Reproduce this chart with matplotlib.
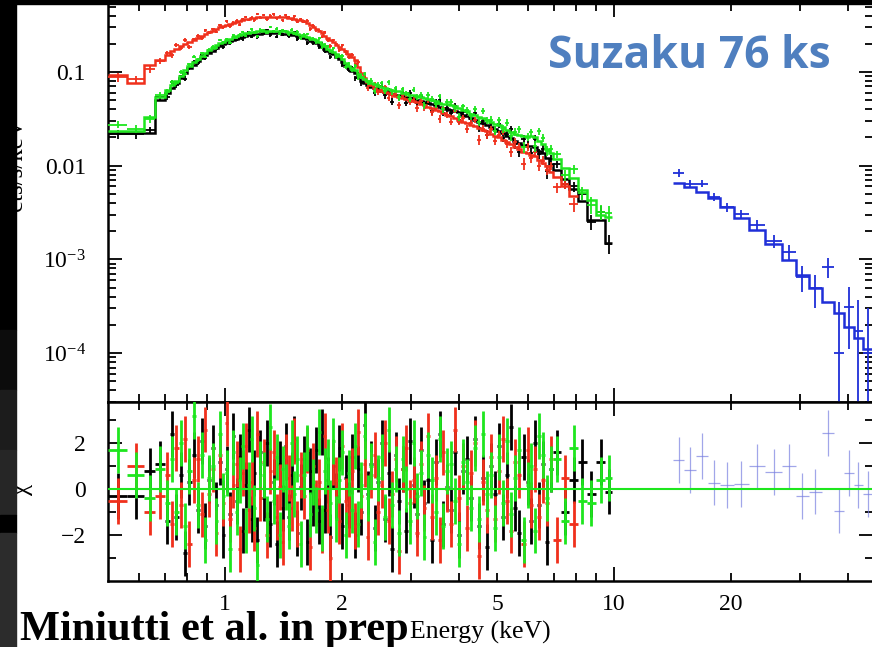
import numpy as np
import matplotlib
matplotlib.use("Agg")
import matplotlib.pyplot as plt
from matplotlib.patches import Rectangle
from matplotlib.ticker import LogLocator, NullFormatter

plt.rcParams['font.family'] = ['Liberation Serif', 'DejaVu Serif']

# XIS bin edges (keV), shared by the three XIS spectra
xis_edges = [0.50, 0.56, 0.62, 0.66,
             0.70, 0.72, 0.74, 0.76, 0.78, 0.80, 0.82, 0.84, 0.86, 0.88,
             0.90, 0.92, 0.94, 0.96, 0.98, 1.00, 1.02, 1.04, 1.06, 1.08,
             1.10, 1.12, 1.14, 1.16, 1.18, 1.20, 1.22,
             1.245, 1.27, 1.295, 1.32, 1.345, 1.37, 1.395, 1.42, 1.445, 1.47, 1.495, 1.52,
             1.55, 1.58, 1.61, 1.64, 1.67, 1.70, 1.73, 1.76, 1.79, 1.82, 1.85, 1.88,
             1.915, 1.95, 1.985, 2.02, 2.06, 2.10, 2.14, 2.18, 2.22, 2.26, 2.305,
             2.35, 2.40, 2.45, 2.50, 2.55, 2.605, 2.66, 2.715, 2.77, 2.83, 2.89,
             2.955, 3.02, 3.085, 3.15, 3.22, 3.29, 3.365, 3.44, 3.52, 3.60, 3.685, 3.77,
             3.86, 3.95, 4.045, 4.14, 4.24, 4.34, 4.445, 4.55, 4.66, 4.77, 4.885, 5.00,
             5.125, 5.25, 5.38, 5.51, 5.645, 5.78, 5.92, 6.06, 6.205, 6.35, 6.505, 6.66,
             6.82, 6.98,
             7.32, 7.68, 8.06, 8.50, 9.0, 9.5, 9.9]

# folded model (cts/s/keV) per bin
black_model = [0.0223, 0.0223, 0.0223, 0.050,
               0.060, 0.068, 0.077, 0.087, 0.098, 0.109, 0.120, 0.130, 0.140, 0.150,
               0.159, 0.168, 0.180, 0.189, 0.197, 0.204, 0.212, 0.219, 0.225, 0.231,
               0.237, 0.242, 0.246, 0.250, 0.253, 0.255,
               0.257, 0.259, 0.260, 0.260, 0.260, 0.260, 0.259, 0.257, 0.255, 0.252, 0.249, 0.246,
               0.241, 0.235, 0.229, 0.223, 0.216, 0.209, 0.202, 0.194, 0.184, 0.175, 0.166, 0.160,
               0.154, 0.146, 0.138, 0.128, 0.117, 0.109, 0.103, 0.097, 0.089, 0.081, 0.077,
               0.073, 0.069, 0.067, 0.065, 0.063, 0.0615, 0.060, 0.0585, 0.057, 0.0565, 0.055,
               0.054, 0.0525, 0.0515, 0.0505, 0.049, 0.0475, 0.0465, 0.0455, 0.044, 0.0425,
               0.0415, 0.0405, 0.0395, 0.0385, 0.037, 0.035, 0.034, 0.0325, 0.031, 0.0295,
               0.0285, 0.0275, 0.026, 0.0245,
               0.0235, 0.0225, 0.0208, 0.0195, 0.0185, 0.0175, 0.0168, 0.0162, 0.0162, 0.0158,
               0.0145, 0.0135, 0.0120, 0.0105,
               0.0090, 0.0072, 0.0057, 0.0042, 0.0026, 0.0026, 0.0015]
red_model = [0.093, 0.076, 0.118, 0.135,
             0.152, 0.166, 0.177, 0.188, 0.198, 0.209, 0.219, 0.230, 0.242, 0.254,
             0.264, 0.277, 0.290, 0.300, 0.307, 0.316, 0.323, 0.332, 0.340, 0.349,
             0.356, 0.364, 0.370, 0.377, 0.380, 0.384,
             0.386, 0.389, 0.390, 0.390, 0.390, 0.390, 0.389, 0.387, 0.384, 0.379, 0.374, 0.367,
             0.362, 0.356, 0.347, 0.333, 0.318, 0.302, 0.287, 0.273, 0.258, 0.242, 0.230, 0.220,
             0.207, 0.193, 0.184, 0.176, 0.166, 0.154, 0.145, 0.135, 0.112, 0.098, 0.086,
             0.078, 0.072, 0.068, 0.065, 0.063, 0.061, 0.059, 0.0575, 0.056, 0.0545, 0.053,
             0.0515, 0.0505, 0.049, 0.0475, 0.0455, 0.044, 0.0425, 0.041, 0.0395, 0.038,
             0.0365, 0.035, 0.0335, 0.032, 0.0305, 0.0295, 0.0285, 0.027, 0.0262, 0.0252,
             0.0242, 0.0232, 0.0218, 0.0208,
             0.0200, 0.0190, 0.0180, 0.0170, 0.0160, 0.0150, 0.0140, 0.0135, 0.0130, 0.0126,
             0.0116, 0.0108, 0.0098, 0.0086,
             0.0075, 0.0060, 0.0048]
green_model = [0.0235, 0.0235, 0.033, 0.054,
               0.064, 0.072, 0.081, 0.091, 0.104, 0.116, 0.128, 0.138, 0.149, 0.160,
               0.170, 0.180, 0.192, 0.202, 0.210, 0.218, 0.226, 0.234, 0.240, 0.246,
               0.252, 0.258, 0.262, 0.266, 0.269, 0.271,
               0.273, 0.275, 0.276, 0.276, 0.276, 0.276, 0.275, 0.273, 0.271, 0.268, 0.265, 0.261,
               0.257, 0.251, 0.245, 0.239, 0.232, 0.225, 0.217, 0.208, 0.198, 0.188, 0.178, 0.170,
               0.163, 0.155, 0.147, 0.137, 0.126, 0.117, 0.111, 0.105, 0.096, 0.088, 0.084,
               0.080, 0.076, 0.074, 0.071, 0.069, 0.068, 0.066, 0.065, 0.063, 0.062, 0.060,
               0.059, 0.057, 0.0565, 0.0555, 0.054, 0.0525, 0.051, 0.050, 0.049, 0.047,
               0.046, 0.045, 0.044, 0.043, 0.041, 0.039, 0.038, 0.036, 0.035, 0.033,
               0.032, 0.031, 0.0295, 0.028,
               0.027, 0.026, 0.024, 0.023, 0.022, 0.021, 0.0205, 0.020, 0.0205, 0.020,
               0.0185, 0.0170, 0.0152, 0.0135,
               0.0118, 0.0094, 0.0074, 0.0055, 0.0043, 0.0030, 0.0028]

# fractional 1-sigma error per bin
rel_err = [0.10, 0.10, 0.09, 0.07,
           0.065, 0.06, 0.055, 0.05, 0.048, 0.046, 0.044, 0.042, 0.04, 0.04,
           0.039, 0.038, 0.037, 0.036, 0.036, 0.035, 0.035, 0.035, 0.034, 0.034,
           0.034, 0.034, 0.034, 0.034, 0.034, 0.034,
           0.034, 0.034, 0.034, 0.034, 0.034, 0.034, 0.034, 0.034, 0.034, 0.034, 0.034, 0.034,
           0.035, 0.035, 0.036, 0.036, 0.037, 0.038, 0.039, 0.04, 0.041, 0.042, 0.043, 0.044,
           0.045, 0.046, 0.047, 0.048, 0.05, 0.052, 0.054, 0.056, 0.058, 0.06, 0.061,
           0.062, 0.063, 0.064, 0.065, 0.066, 0.067, 0.068, 0.068, 0.069, 0.07, 0.07,
           0.071, 0.071, 0.072, 0.072, 0.073, 0.073, 0.074, 0.075, 0.075, 0.076,
           0.077, 0.078, 0.079, 0.08, 0.081, 0.082, 0.083, 0.084, 0.085, 0.086,
           0.087, 0.088, 0.089, 0.09,
           0.092, 0.094, 0.096, 0.098, 0.10, 0.102, 0.104, 0.106, 0.108, 0.11,
           0.113, 0.116, 0.12, 0.125,
           0.10, 0.11, 0.13, 0.15, 0.18, 0.20, 0.22]

# residuals (data - model) / sigma
black_chi = [-0.3, -0.3, 0.8, 1.1, -1.4, 2.4, -1.2, 0.6, -2.8, 0.3,
             1.5, -0.9, 2.1, -1.6, 0.4, 1.8, -0.7, 1.2, -2.0, 0.9,
             -1.1, 2.3, -0.5, 1.4, -1.8, 0.2, 2.6, -1.3, 0.7, -2.2,
             1.6, -0.4, 2.0, -1.5, 0.3, -2.4, 1.1, -0.8, 1.9, -1.2,
             0.6, 2.2, -1.9, 0.1, 1.3, -2.3, 0.8, -0.6, 1.7, -1.4,
             2.5, -0.9, 0.4, -2.1, 1.0, -0.3, 1.8, -1.6, 0.5, -0.7,
             1.4, -2.0, 0.9, -1.0, 2.8, -0.2, 1.1, -1.7, 0.3, 2.0,
             -1.3, 0.7, -2.6, 1.5, -0.5, 0.9, -1.8, 2.1, 0.2, -1.1,
             1.7, -0.6, 0.4, -2.2, 1.2, 2.4, -1.5, 0.1, -0.9, 1.6,
             -2.0, 0.8, 1.3, -0.4, 2.2, -1.6, 0.5, -2.5, 1.0, -0.2,
             1.9, -1.2, 0.6, 2.7, -0.8, -1.9, 1.4, 0.3, -1.4, 2.0,
             -0.7, 1.1, -2.3, 0.9, 1.6, -1.0, 0.4, 1.2, -0.2, 1.2,
             -0.1]
red_chi = [-0.5, 1.0, -1.0, -0.3, 0.6, -1.5, 1.8, -0.7, 2.2, -2.4,
           0.4, 1.3, -1.1, 2.6, -0.2, 0.9, -1.9, 1.5, -0.6, 2.9,
           -1.3, 0.2, 1.1, -2.6, 0.7, 1.9, -0.9, 0.3, -1.7, 2.4,
           -0.4, 1.2, -2.0, 0.8, 1.6, -1.2, 0.1, -2.3, 1.4, 0.5,
           -0.8, 2.1, -1.5, 0.6, -0.3, 1.7, -2.5, 1.0, -0.6, 0.3,
           -1.8, 2.3, -0.9, -3.0, 1.2, 0.4, -1.4, 1.9, -0.5, -1.1,
           0.8, -1.6, 2.5, -0.3, 1.1, -2.1, 0.6, 1.5, -1.0, 0.2,
           2.0, -1.4, -0.2, 1.3, -2.7, 0.9, 1.8, -0.6, 0.4, -1.9,
           1.1, -0.8, 2.3, -1.2, 0.5, -2.2, 1.6, 0.0, -1.5, 2.6,
           -0.4, 1.0, -1.7, 0.7, 2.0, -2.9, 0.3, -0.9, 1.4, -1.3,
           0.8, 2.2, -0.5, -1.8, 1.2, 0.6, -2.4, 1.7, -0.7, 0.9,
           -1.2, 0.4, -0.6, 1.3, -2.2, 0.5, -1.5]
green_chi = [1.7, 0.6, -0.4, 0.9, -0.6, 1.3, -1.0, 2.0, -1.6, 0.8,
             3.2, -0.7, 1.5, -2.2, 0.5, 1.0, -1.4, 2.4, -0.3, 0.7,
             -2.6, 1.6, -1.0, 0.4, 1.9, -1.8, 0.2, 2.2, -0.8, -3.3,
             1.1, 0.6, -1.3, 2.7, -0.5, 1.4, -2.0, 0.9, 0.1, -1.6,
             2.0, -0.2, 1.3, -2.4, 0.6, 1.8, -1.1, 0.3, -0.9, 2.5,
             -1.7, 0.8, 1.2, -0.6, 2.1, -1.3, 0.4, 1.6, -2.0, 0.7,
             -0.9, 1.9, -1.5, 0.2, 2.3, -0.4, 1.0, -2.3, 0.5, 1.4,
             -1.2, 2.6, -0.7, 0.9, -1.9, 1.3, 0.0, -1.4, 2.0, -0.3,
             0.7, -2.1, 1.5, 0.4, -1.0, 2.2, -1.6, 0.8, 1.1, -0.5,
             -2.4, 1.2, 0.3, -0.8, 1.8, -1.3, 2.4, -0.2, 0.6, -1.7,
             1.4, -0.6, 2.1, -1.1, 0.5, 1.7, -2.2, 0.2, 1.0, -1.8,
             2.3, 1.5, -0.4, 0.9, 1.3, -1.4, 1.8, -0.5, -0.6, 0.4,
             0.5]

# HXD-PIN spectrum
pin_edges = [14.2, 15.1, 16.2, 17.4, 18.7, 20.3, 22.2, 24.5, 27.0, 29.3,
             31.7, 34.2, 36.7, 39.0, 41.3, 43.7, 46.5]
pin_model = [6.6e-3, 5.9e-3, 5.2e-3, 4.5e-3, 3.6e-3, 2.75e-3, 2.05e-3, 1.45e-3,
             9.8e-4, 6.8e-4, 4.9e-4, 3.5e-4, 2.7e-4, 1.9e-4, 1.45e-4, 1.1e-4]
pin_data = [8.35e-3, 6.4e-3, 6.4e-3, 4.6e-3, 3.6e-3, 3.05e-3, 2.33e-3, 1.58e-3,
            1.2e-3, 6.5e-4, 4.95e-4, 8.3e-4, 1.0e-4, 3.1e-4, 1.7e-4, 1.0e-4]
pin_sigma = [8.0e-4, 6.0e-4, 5.5e-4, 4.5e-4, 4.0e-4, 3.5e-4, 3.0e-4, 2.5e-4,
             2.2e-4, 2.0e-4, 1.9e-4, 2.0e-4, 2.5e-4, 2.0e-4, 2.0e-4, 2.0e-4]
pin_chi = [1.28, 0.84, 1.45, 0.29, 0.17, 0.23, 0.99, 0.75, 0.99, -0.29,
           -0.1, 2.43, -0.93, 0.70, 0.17, -0.2]

c_black, c_red, c_green, c_blue = '#000000', '#f0301c', '#1ee61e', '#1f2fd8'

W, H = 872, 647
fig = plt.figure(figsize=(W / 100, H / 100), dpi=100)
fig.patch.set_facecolor('white')


def fx(px):
    return px / W


def fy(py):
    return 1 - py / H


L, R = 108, 873
ax1 = fig.add_axes([fx(L), fy(402), (R - L) / W, (402 - 3) / H])
ax2 = fig.add_axes([fx(L), fy(581), (R - L) / W, (581 - 402) / H], sharex=ax1)


def draw_xis(model, chi, color, z):
    m = np.array(model)
    n = len(m)
    e = np.array(xis_edges[:n + 1])
    lo, hi = e[:-1], e[1:]
    cen = np.sqrt(lo * hi)
    c = np.array(chi)
    sig = np.array(rel_err[:n]) * m
    data = m + c * sig
    ax1.errorbar(cen, data, xerr=[cen - lo, hi - cen], yerr=sig, fmt='none',
                 ecolor=color, elinewidth=1.3, zorder=z)
    ax1.stairs(m, e, baseline=None, color=color, lw=1.8, zorder=z + 0.5)
    ax2.errorbar(cen, c, xerr=[cen - lo, hi - cen], yerr=1.0, fmt='none',
                 ecolor=color, elinewidth=2.0, zorder=z)


draw_xis(black_model, black_chi, c_black, 2)
draw_xis(red_model, red_chi, c_red, 3)
draw_xis(green_model, green_chi, c_green, 4)

pe = np.array(pin_edges)
plo, phi = pe[:-1], pe[1:]
pcen = np.sqrt(plo * phi)
ax1.errorbar(pcen, pin_data, xerr=[pcen - plo, phi - pcen], yerr=pin_sigma,
             fmt='none', ecolor=c_blue, elinewidth=1.3, zorder=5)
ax1.stairs(pin_model, pe, baseline=None, color=c_blue, lw=1.8, zorder=5)
ax2.errorbar(pcen, pin_chi, xerr=[pcen - plo, phi - pcen], yerr=1.0,
             fmt='none', ecolor='#7a80e0', elinewidth=0.9, alpha=0.7, zorder=5)
ax2.axhline(0, color=c_green, lw=1.5, zorder=6)

ax1.set_xscale('log')
ax1.set_yscale('log')
ax1.set_xlim(0.5, 46.3)
ax1.set_ylim(3.0e-5, 0.545)
ax2.set_ylim(-4.0, 3.8)

ax1.set_yticks([1e-4, 1e-3, 1e-2, 1e-1],
               [r'$\mathregular{10^{-4}}$', r'$\mathregular{10^{-3}}$', '0.01', '0.1'])
ax1.yaxis.set_minor_locator(LogLocator(base=10, subs=np.arange(2, 10)))
ax1.yaxis.set_minor_formatter(NullFormatter())

ax2.set_xticks([1, 10], ['1', '10'])
minor_x = [0.6, 0.7, 0.8, 0.9, 2, 3, 4, 5, 6, 7, 8, 9, 20, 30, 40]
ax2.set_xticks(minor_x, ['' if v not in (2, 5, 20) else str(v) for v in minor_x], minor=True)
ax2.set_yticks([-2, 0, 2], ['\u22122', '0', '2'])
ax2.set_yticks([-3, -1, 1, 3], minor=True)

for ax in (ax1, ax2):
    ax.tick_params(which='both', direction='in', top=True, right=True,
                   width=1.3, labelsize=17)
    ax.tick_params(which='major', length=10)
    ax.tick_params(which='minor', length=6)
    ax.tick_params(axis='y', which='both', pad=16)
    ax.tick_params(axis='x', which='both', pad=9)
    for s in ax.spines.values():
        s.set_linewidth(1.8)
ax1.tick_params(which='both', labelbottom=False)

# annotations
fig.text(fx(548), fy(68), 'Suzaku 76 ks', fontfamily='Open Sans', fontweight='bold',
         fontsize=32, color='#4f7fbf', va='baseline')
fig.text(fx(20), fy(640), 'Miniutti et al. in prep', fontweight='bold',
         fontsize=30.5, va='baseline', zorder=12)
fig.text(fx(410), fy(639), 'Energy (keV)', fontsize=18.5, va='baseline')
fig.text(fx(16), fy(165), 'cts/s/keV', rotation=90, ha='center', va='center', fontsize=18)
fig.text(fx(22), fy(489), '\u03c7', rotation=90, ha='center', va='center', fontsize=18)

# screenshot frame: dark strips along the top and left edges
strips = [((0, 0), (W, 4), '#000000'),
          ((0, 0), (16, 330), '#000000'),
          ((0, 330), (16, 60), '#0c0c0c'),
          ((0, 390), (16, 60), '#1c1c1c'),
          ((0, 450), (16, 65), '#262626'),
          ((0, 515), (16, 18), '#000000'),
          ((0, 533), (16, 114), '#2c2c2c')]
for (x0, y0), (w, h), col in strips:
    fig.patches.append(Rectangle((fx(x0), fy(y0 + h)), w / W, h / H,
                                 transform=fig.transFigure, color=col, zorder=10))

fig.savefig('out.png', dpi=100)
